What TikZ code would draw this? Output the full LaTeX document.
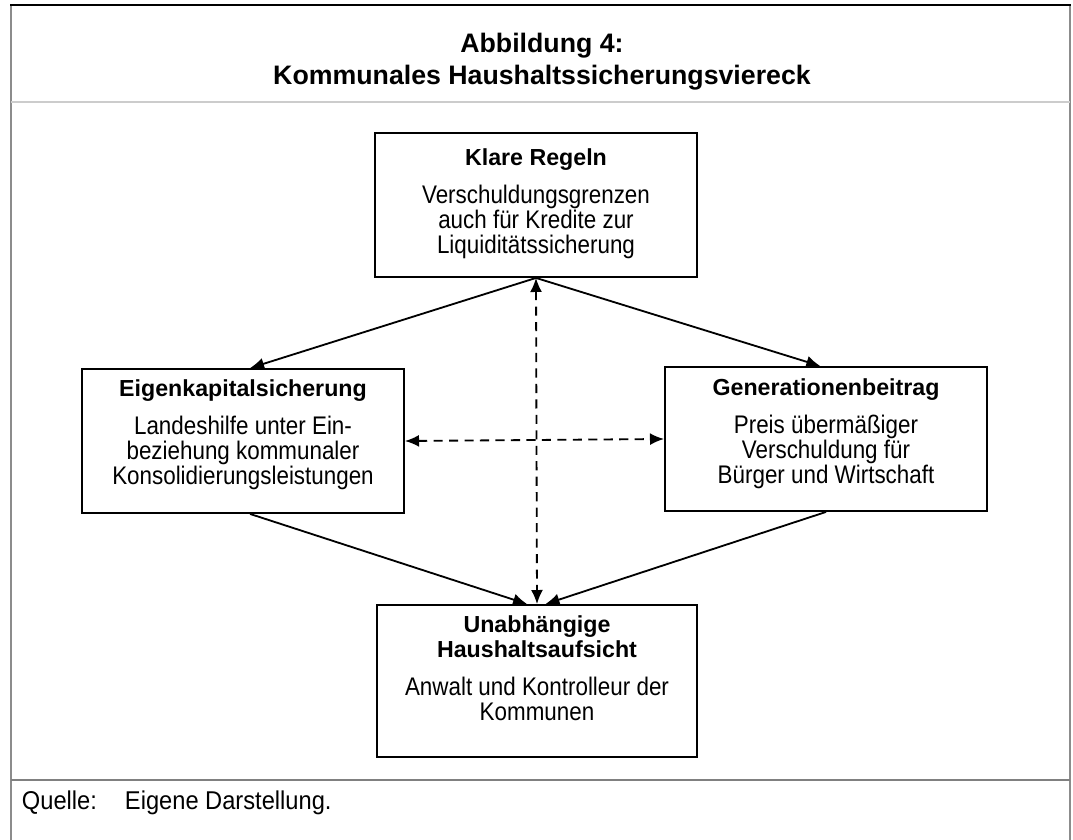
\documentclass[tikz,border=0pt]{standalone}
\usepackage{fontspec}
\setmainfont{Liberation Sans}
\newfontfamily\schmal[FakeStretch=0.88]{Liberation Sans}
\newfontfamily\quellfont[FakeStretch=0.92]{Liberation Sans}
\usetikzlibrary{arrows.meta}

\tikzset{
  feld/.style={draw, line width=1.3pt, minimum width=8.05cm, minimum height=3.6cm, inner sep=0pt},
  inhalt/.style={align=center, inner sep=0pt, font=\schmal\fontsize{18.1}{17.8}\selectfont},
  pfeil/.style={line width=1.3pt, -{Latex[length=10pt,width=8.5pt]}},
  doppelpfeil/.style={line width=1.3pt, dash pattern=on 6.5pt off 4.5pt,
    {Latex[length=10pt,width=8.5pt]}-{Latex[length=10pt,width=8.5pt]}},
}
\newcommand{\kopf}[1]{{\normalfont\bfseries\fontsize{16.5}{19}\selectfont #1}}

\begin{document}
\begin{tikzpicture}[x=0.025cm, y=-0.025cm]
            \useasboundingbox (0,0) rectangle (1073,840);
            % Rahmen
            \draw[black!45, line width=1.2pt] (11,5) -- (11,840);
            \draw[black!45, line width=1.2pt] (1070,5) -- (1070,840);
            \draw[black, line width=1.5pt] (10,5) -- (1071,5);
            \draw[black!20, line width=1.3pt] (11,102) -- (1070,102);
            \draw[black!50, line width=1pt] (11,780) -- (1070,780);
            \node[align=center, font=\bfseries\fontsize{19}{22.8}\selectfont] (titel) at (542,62) {Abbildung 4:\\Kommunales Haushaltssicherungsviereck};
            % Felder
            \node[feld] (regeln) at (536,205) {};
            \node[feld] (eigen) at (243,441) {};
            \node[feld] (generation) at (826,439) {};
            \node[feld, minimum width=8cm, minimum height=3.8cm] (aufsicht) at (537,681) {};
            \node[inhalt, yshift=1pt] (regelntext) at (regeln) {\kopf{Klare Regeln}\\[9pt]Verschuldungsgrenzen\\auch für Kredite zur\\Liquiditätssicherung};
            \node[inhalt, yshift=4.3pt] (eigentext) at (eigen) {\kopf{Eigenkapitalsicherung}\\[9pt]Landeshilfe unter Ein-\\beziehung kommunaler\\Konsolidierungsleistungen};
            \node[inhalt, yshift=3.5pt] (generationtext) at (generation) {\kopf{Generationenbeitrag}\\[9pt]Preis übermäßiger\\Verschuldung für\\Bürger und Wirtschaft};
            \node[inhalt, yshift=9pt] (aufsichttext) at (aufsicht) {\kopf{Unabhängige}\\\kopf{Haushaltsaufsicht}\\[9pt]Anwalt und Kontrolleur der\\Kommunen};
            % Pfeile
            \draw[pfeil] (regeln.south) -- ([xshift=5pt]eigen.north);
            \draw[pfeil] (regeln.south) -- ([xshift=-4pt]generation.north);
            \draw[pfeil] ([xshift=5pt]eigen.south) -- ([xshift=-7pt]aufsicht.north);
            \draw[pfeil] (generation.south) -- ([xshift=6pt]aufsicht.north);
            \draw[doppelpfeil] (regeln.south) -- (aufsicht.north);
            \draw[doppelpfeil] (eigen.east) -- (generation.west);
            % Quelle
            \node[anchor=west, font=\quellfont\fontsize{18.3}{19}\selectfont] (quelle) at (17,803) {Quelle:};
            \node[anchor=west, font=\quellfont\fontsize{18.3}{19}\selectfont] (darstellung) at (120,803) {Eigene Darstellung.};
        \end{tikzpicture}
\end{document}
